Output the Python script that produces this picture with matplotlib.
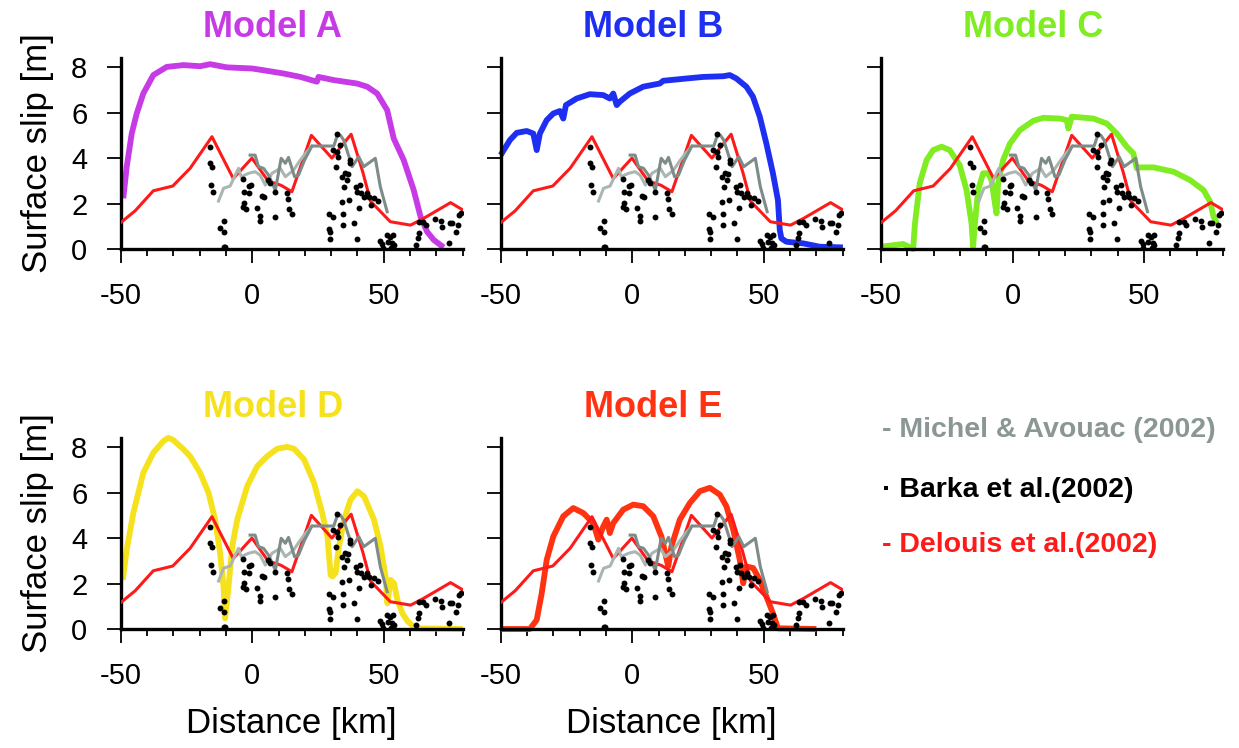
import numpy as np
import matplotlib.pyplot as plt

plt.rcParams['font.family'] = ['Liberation Sans', 'DejaVu Sans']
plt.rcParams['axes.unicode_minus'] = False

# --- observations (same in every panel) ---
delouis_x = [-50, -44.5, -37.6, -30.2, -23.6, -15.3, -7.2, -0.1, 6, 11, 15.1, 22.5, 30.3, 37.6, 42, 45, 52.5, 60.2, 65.2, 75.4, 80.2]
delouis_y = [1.16, 1.68, 2.56, 2.77, 3.55, 4.94, 3.1, 4.0, 3.0, 2.8, 2.52, 5.0, 4.0, 5.05, 3.4, 2.1, 1.2, 1.05, 1.35, 2.04, 1.71]

michel1_x = [-12.8, -10.9, -8.4, -5.2, -4.2, -1.4, 1.1, 3.0, 5.0, 7.5, 10.7, 12.6, 15.7, 18.3, 20.2, 22.7]
michel1_y = [2.11, 2.67, 2.77, 3.55, 3.18, 3.33, 3.40, 3.25, 2.81, 3.33, 3.55, 3.18, 3.47, 3.91, 4.2, 4.53]

michel2_x = [-0.8, 1.1, 2.4, 4.3, 6.2, 8.8, 11.0, 12.6, 13.8, 16.1, 17.6, 19.9, 22.7, 31.0, 32.2, 33.5, 34.8, 38.0, 40.5, 42.4, 46.8, 48.7, 51.3]
michel2_y = [4.13, 4.13, 3.62, 3.55, 3.25, 2.59, 3.99, 3.77, 4.03, 3.18, 3.25, 3.91, 4.53, 4.53, 4.94, 5.01, 4.79, 3.62, 4.06, 3.62, 3.99, 2.74, 1.64]

barka_x = [-16.0, -16.0, -15.2, -15.6, -15.0, -12.4, -10.7, -10.8, -10.9, -10.3,
           -3.6, -3.0, -1.1, -0.5, -1.1, -3.3, -3.6, -2.3, 1.8, 2.8, 3.0, 3.7, 4.4,
           6.1, 6.9, 8.8, 8.8, 13.2, 13.5, 14.1, 15.1,
           29.2, 29.2, 29.4, 29.4, 30.6, 30.6, 32.2, 32.5, 32.0, 32.2, 33.5, 34.3,
           35.4, 36.0, 36.4, 34.8, 34.3, 34.5, 34.5, 36.7, 37.3, 37.1, 38.6, 39.3,
           39.8, 40.5, 41.1, 41.5, 42.4, 43.7, 44.3, 45.2, 46.2, 47.7, 39.8,
           48.7, 49.4, 51.3, 52.5, 53.6, 51.5, 53.2, 52.9, 49.7, 53.8,
           62.1, 62.9, 63.3, 63.3, 65.0, 65.9, 69.4, 71.6, 72.2, 75.1, 76.0, 77.3,
           78.2, 78.6, 79.2, 74.7]
barka_y = [4.50, 3.79, 3.62, 2.81, 2.52, 0.91, 1.23, 0.73, 0.07, 0.07,
           3.06, 2.52, 2.78, 2.83, 2.45, 2.01, 1.86, 1.74, 1.79, 1.47, 1.25, 2.34, 2.29,
           3.03, 2.89, 2.52, 1.42, 2.45, 2.18, 1.74, 1.54,
           1.54, 0.88, 0.76, 0.42, 1.42, 4.35, 4.28, 4.06, 3.62, 5.08, 4.57, 3.18,
           3.33, 3.03, 3.30, 2.74, 2.05, 1.54, 1.05, 2.15, 3.91, 3.77, 1.16, 2.74,
           2.52, 1.79, 2.81, 2.45, 2.30, 2.48, 2.30, 1.93, 2.23, 2.11, 0.42,
           0.37, 0.22, 0.62, 0.54, 0.62, 0.32, 0.25, 0.06, 0.06, 0.18,
           0.18, 0.47, 0.72, 1.20, 1.20, 1.05, 1.30, 1.25, 0.95, 1.13, 1.13, 0.76,
           1.05, 1.49, 1.57, 0.25]

# --- model curves ---
a_x = [-49, -47.7, -45.8, -43.9, -41.4, -37.6, -32.5, -26.1, -19.8, -16, -9.6, 0, 5.6, 11.9, 18.3, 24.6, 25.2, 31.0, 39.8, 43.7, 47.5, 51.3, 53.8, 57.6, 61.4, 64.0, 66.5, 69.0, 72.8]
a_y = [2.23, 3.62, 5.08, 5.96, 6.84, 7.65, 8.01, 8.09, 8.04, 8.13, 7.99, 7.94, 7.84, 7.72, 7.57, 7.36, 7.57, 7.43, 7.28, 7.14, 6.84, 6.11, 4.86, 3.91, 2.59, 1.42, 0.76, 0.40, 0.07]

b_x = [-50, -46.5, -43.9, -40.1, -37.6, -36.3, -35.1, -32.5, -30.0, -27.5, -26.2, -25.2, -21.1, -16.1, -11.0, -8.5, -7.2, -5.9, -4.7, -0.9, 4.2, 10.5, 11.8, 20.6, 27.0, 34.6, 37.1, 39.6, 43.4, 45.9, 48.5, 51.0, 53.5, 55.4, 56.1, 56.7, 58.6, 64.9, 71.3, 80.1]
b_y = [4.13, 4.79, 5.11, 5.19, 5.08, 4.35, 5.08, 5.67, 5.96, 6.07, 5.74, 6.33, 6.62, 6.81, 6.77, 6.62, 6.84, 6.33, 6.48, 6.84, 7.14, 7.28, 7.40, 7.50, 7.57, 7.60, 7.65, 7.50, 7.14, 6.70, 5.82, 4.64, 3.33, 2.15, 0.84, 0.47, 0.32, 0.25, 0.10, 0.07]

c_x = [-50, -41.6, -37.8, -37.1, -35.3, -32.7, -30.2, -27.0, -23.9, -20.1, -17.5, -15.6, -15.0, -14.3, -13.1, -11.2, -9.3, -8.0, -6.7, -6.1, -5.5, -3.6, -1.0, 2.8, 7.9, 11.7, 18.0, 20.6, 21.2, 22.5, 30.7, 35.8, 39.6, 43.4, 45.9, 47.2, 48.5, 53.6, 61.2, 67.5, 72.6, 75.1, 76.4, 77.7]
c_y = [0.1, 0.22, 0.0, 1.13, 2.89, 3.91, 4.35, 4.50, 4.35, 3.69, 2.59, 1.13, 0.1, 1.13, 2.59, 3.33, 3.33, 3.03, 2.0, 1.57, 2.89, 3.91, 4.64, 5.23, 5.64, 5.77, 5.74, 5.67, 5.30, 5.82, 5.74, 5.52, 5.08, 4.50, 4.21, 3.55, 3.59, 3.59, 3.40, 3.03, 2.59, 2.08, 1.42, 1.13]

d_x = [-49.2, -47.7, -45.2, -41.4, -37.6, -33.8, -31.9, -30.0, -26.1, -23.6, -19.8, -16.6, -14.1, -12.2, -10.9, -10.3, -9.0, -7.6, -5.7, -1.9, 1.9, 5.7, 9.5, 13.3, 15.9, 19.7, 23.5, 26.6, 28.6, 29.8, 30.5, 31.7, 33.0, 34.9, 37.4, 40.0, 42.5, 46.3, 48.8, 50.7, 51.4, 52.6, 53.9, 55.2, 57.1, 59.0, 62.0, 80]
d_y = [2.16, 3.49, 5.10, 6.87, 7.75, 8.26, 8.41, 8.31, 7.90, 7.60, 6.87, 5.99, 4.81, 3.34, 1.87, 0.47, 1.87, 3.63, 4.81, 6.28, 7.16, 7.60, 7.93, 8.01, 7.93, 7.46, 6.43, 5.10, 4.07, 2.38, 2.31, 2.46, 3.63, 4.81, 5.69, 6.06, 5.84, 4.81, 3.63, 2.31, 1.13, 2.16, 2.01, 1.28, 0.69, 0.35, 0.03, 0.0]

e_x = [-50, -38.9, -36.3, -34.4, -32.5, -30.0, -26.2, -22.4, -18.6, -14.8, -12.9, -11.0, -9.7, -8.5, -7.2, -3.4, 0.4, 4.2, 8.0, 11.1, 13.7, 14.9, 18.1, 21.9, 25.7, 29.5, 33.3, 35.8, 38.4, 40.9, 42.2, 43.4, 46.0, 48.5, 51.0, 53.5, 55.4, 70]
e_y = [0.0, 0.0, 0.4, 1.57, 3.04, 4.07, 4.96, 5.32, 5.10, 4.66, 3.93, 4.51, 4.81, 4.22, 4.66, 5.25, 5.47, 5.40, 4.96, 4.07, 2.75, 3.63, 4.81, 5.54, 6.06, 6.21, 5.91, 5.40, 4.37, 3.04, 2.01, 2.75, 2.68, 2.16, 1.43, 0.69, 0.03, 0.0]

titles = ['Model A', 'Model B', 'Model C', 'Model D', 'Model E']
colors = ['#c63be6', '#1f2ff2', '#80ec22', '#f6e21c', '#ff3311']
models = [(a_x, a_y), (b_x, b_y), (c_x, c_y), (d_x, d_y), (e_x, e_y)]

lefts = [0.0974, 0.4041, 0.7111, 0.0974, 0.4041]
bottoms = [0.6671, 0.6671, 0.6671, 0.1591, 0.1591]
w, h = 0.276, 0.2553

fig = plt.figure(figsize=(12.39, 7.48), dpi=100)

for i in range(5):
    ax = fig.add_axes([lefts[i], bottoms[i], w, h])
    mx, my = models[i]
    ax.plot(mx, my, color=colors[i], lw=4.2, solid_capstyle='butt', clip_on=False, zorder=2)
    ax.plot(delouis_x, delouis_y, color='#ff1a1a', lw=2.2, zorder=3)
    ax.plot(michel1_x, michel1_y, color='#aab6b2', lw=2.2, zorder=4)
    ax.plot(michel2_x, michel2_y, color='#7e8c89', lw=2.2, zorder=4)
    ax.scatter(barka_x, barka_y, s=18, color='black', zorder=5, linewidths=0)

    ax.set_xlim(-50, 80)
    ax.set_ylim(0, 8.4)
    ax.set_xticks([-50, 0, 50])
    ax.set_xticks(np.arange(-40, 81, 10), minor=True)
    ax.set_yticks([0, 2, 4, 6, 8])
    for s in ['top', 'right']:
        ax.spines[s].set_visible(False)
    for s in ['left', 'bottom']:
        ax.spines[s].set_linewidth(2.4)
    ax.tick_params(axis='both', which='major', length=10, width=1.3, labelsize=21, pad=14)
    ax.tick_params(axis='x', which='minor', length=5, width=1.3)
    ax.text(0.445, 1.16, titles[i], transform=ax.transAxes, ha='center', va='center',
            fontsize=26, fontweight='bold', color=colors[i])
    if i in (0, 3):
        ax.set_ylabel('Surface slip [m]', fontsize=25, labelpad=12)
    else:
        ax.set_yticklabels([])
    if i in (3, 4):
        ax.set_xlabel('Distance [km]', fontsize=25, labelpad=12)

fig.text(882 / 1239, 1 - 430 / 748, '- Michel & Avouac (2002)', color='#8a9794',
         fontsize=20.5, fontweight='bold', va='center', ha='left')
fig.text(882 / 1239, 1 - 490 / 748, '\u00b7 Barka et al.(2002)', color='black',
         fontsize=20.5, fontweight='bold', va='center', ha='left')
fig.text(882 / 1239, 1 - 545 / 748, '- Delouis et al.(2002)', color='#ff1a1a',
         fontsize=20.5, fontweight='bold', va='center', ha='left')

fig.savefig('out.png', dpi=100)
